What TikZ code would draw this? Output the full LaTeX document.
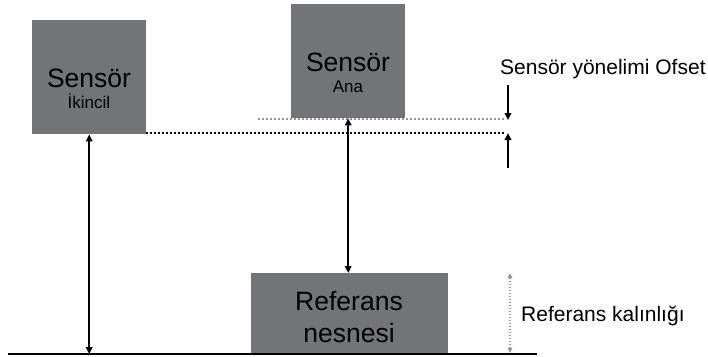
\documentclass[tikz,border=0pt]{standalone}
\usepackage{fontspec}
\setmainfont{Liberation Sans}
\usetikzlibrary{arrows.meta}
\definecolor{boxgray}{RGB}{114,116,118}
\definecolor{dotgray}{RGB}{150,150,150}
\begin{document}
\begin{tikzpicture}[x=1pt,y=-1pt,
  sbox/.style={fill=boxgray, draw=none, inner sep=0pt, anchor=north west},
  bigtxt/.style={anchor=base, inner sep=0pt, font=\fontsize{26.5}{26.5}\selectfont},
  smalltxt/.style={anchor=base, inner sep=0pt, font=\fontsize{17}{17}\selectfont},
  lbl/.style={anchor=base west, inner sep=0pt, font=\fontsize{21}{21}\selectfont},
  arr/.style={line width=2pt, {Triangle[length=7pt,width=6.5pt]}-{Triangle[length=7pt,width=6.5pt]}},
  onearr/.style={line width=2pt, -{Triangle[length=7pt,width=6.5pt]}},
  blackdots/.style={line width=2pt, dash pattern=on 2pt off 2pt},
  graydots/.style={line width=2pt, dotgray, dash pattern=on 2pt off 2pt},
  thickarr/.style={line width=1.6pt, dotgray, dash pattern=on 1.5pt off 1.5pt, {Triangle[length=5pt,width=4.5pt]}-{Triangle[length=5pt,width=4.5pt]}},
]
\useasboundingbox (0,0) rectangle (708,356);

% boxes
\node[sbox, minimum width=114pt, minimum height=114pt] (sec) at (32,20) {};
\node[sbox, minimum width=114pt, minimum height=114pt] (pri) at (291,4) {};
\node[sbox, minimum width=197pt, minimum height=81pt] (ref) at (251,273) {};

% box texts
\node[bigtxt] (secT) at (89,87) {Sensör};
\node[smalltxt] (secS) at (89,108) {İkincil};
\node[bigtxt] (priT) at (348,71) {Sensör};
\node[smalltxt] (priS) at (348,92) {Ana};
\node[bigtxt] (refT) at (349,310) {Referans};
\node[bigtxt] (refS) at (349,342) {nesnesi};

% ground
\coordinate (gL) at (8,354);
\coordinate (gR) at (537,354);
\draw[line width=2.4pt] (gL) -- (gR);

% dotted reference lines
\coordinate (gStart) at (258,119);
\coordinate (gEnd) at (505,119);
\coordinate (bEnd) at (505,133);
\draw[graydots] (gStart) -- (gEnd);
\draw[blackdots] (sec.south east |- bEnd) -- (bEnd);

% measuring arrows
\draw[arr] (sec.south) -- (sec.south |- gL);
\draw[arr] (pri.south) -- (pri.south |- ref.north);

% offset arrows
\coordinate (oTop) at (508,85);
\coordinate (oTopEnd) at (508,120);
\coordinate (oBot) at (508,168);
\coordinate (oBotEnd) at (508,133);
\draw[onearr] (oTop) -- (oTopEnd);
\draw[onearr] (oBot) -- (oBotEnd);

% thickness arrow
\coordinate (tTop) at (510,273);
\coordinate (tBot) at (510,353);
\draw[thickarr] (tTop) -- (tBot);

% labels
\node[lbl] (offL) at (500,74) {Sensör yönelimi Ofset};
\node[lbl] (thkL) at (521,321) {Referans kalınlığı};
\end{tikzpicture}
\end{document}
